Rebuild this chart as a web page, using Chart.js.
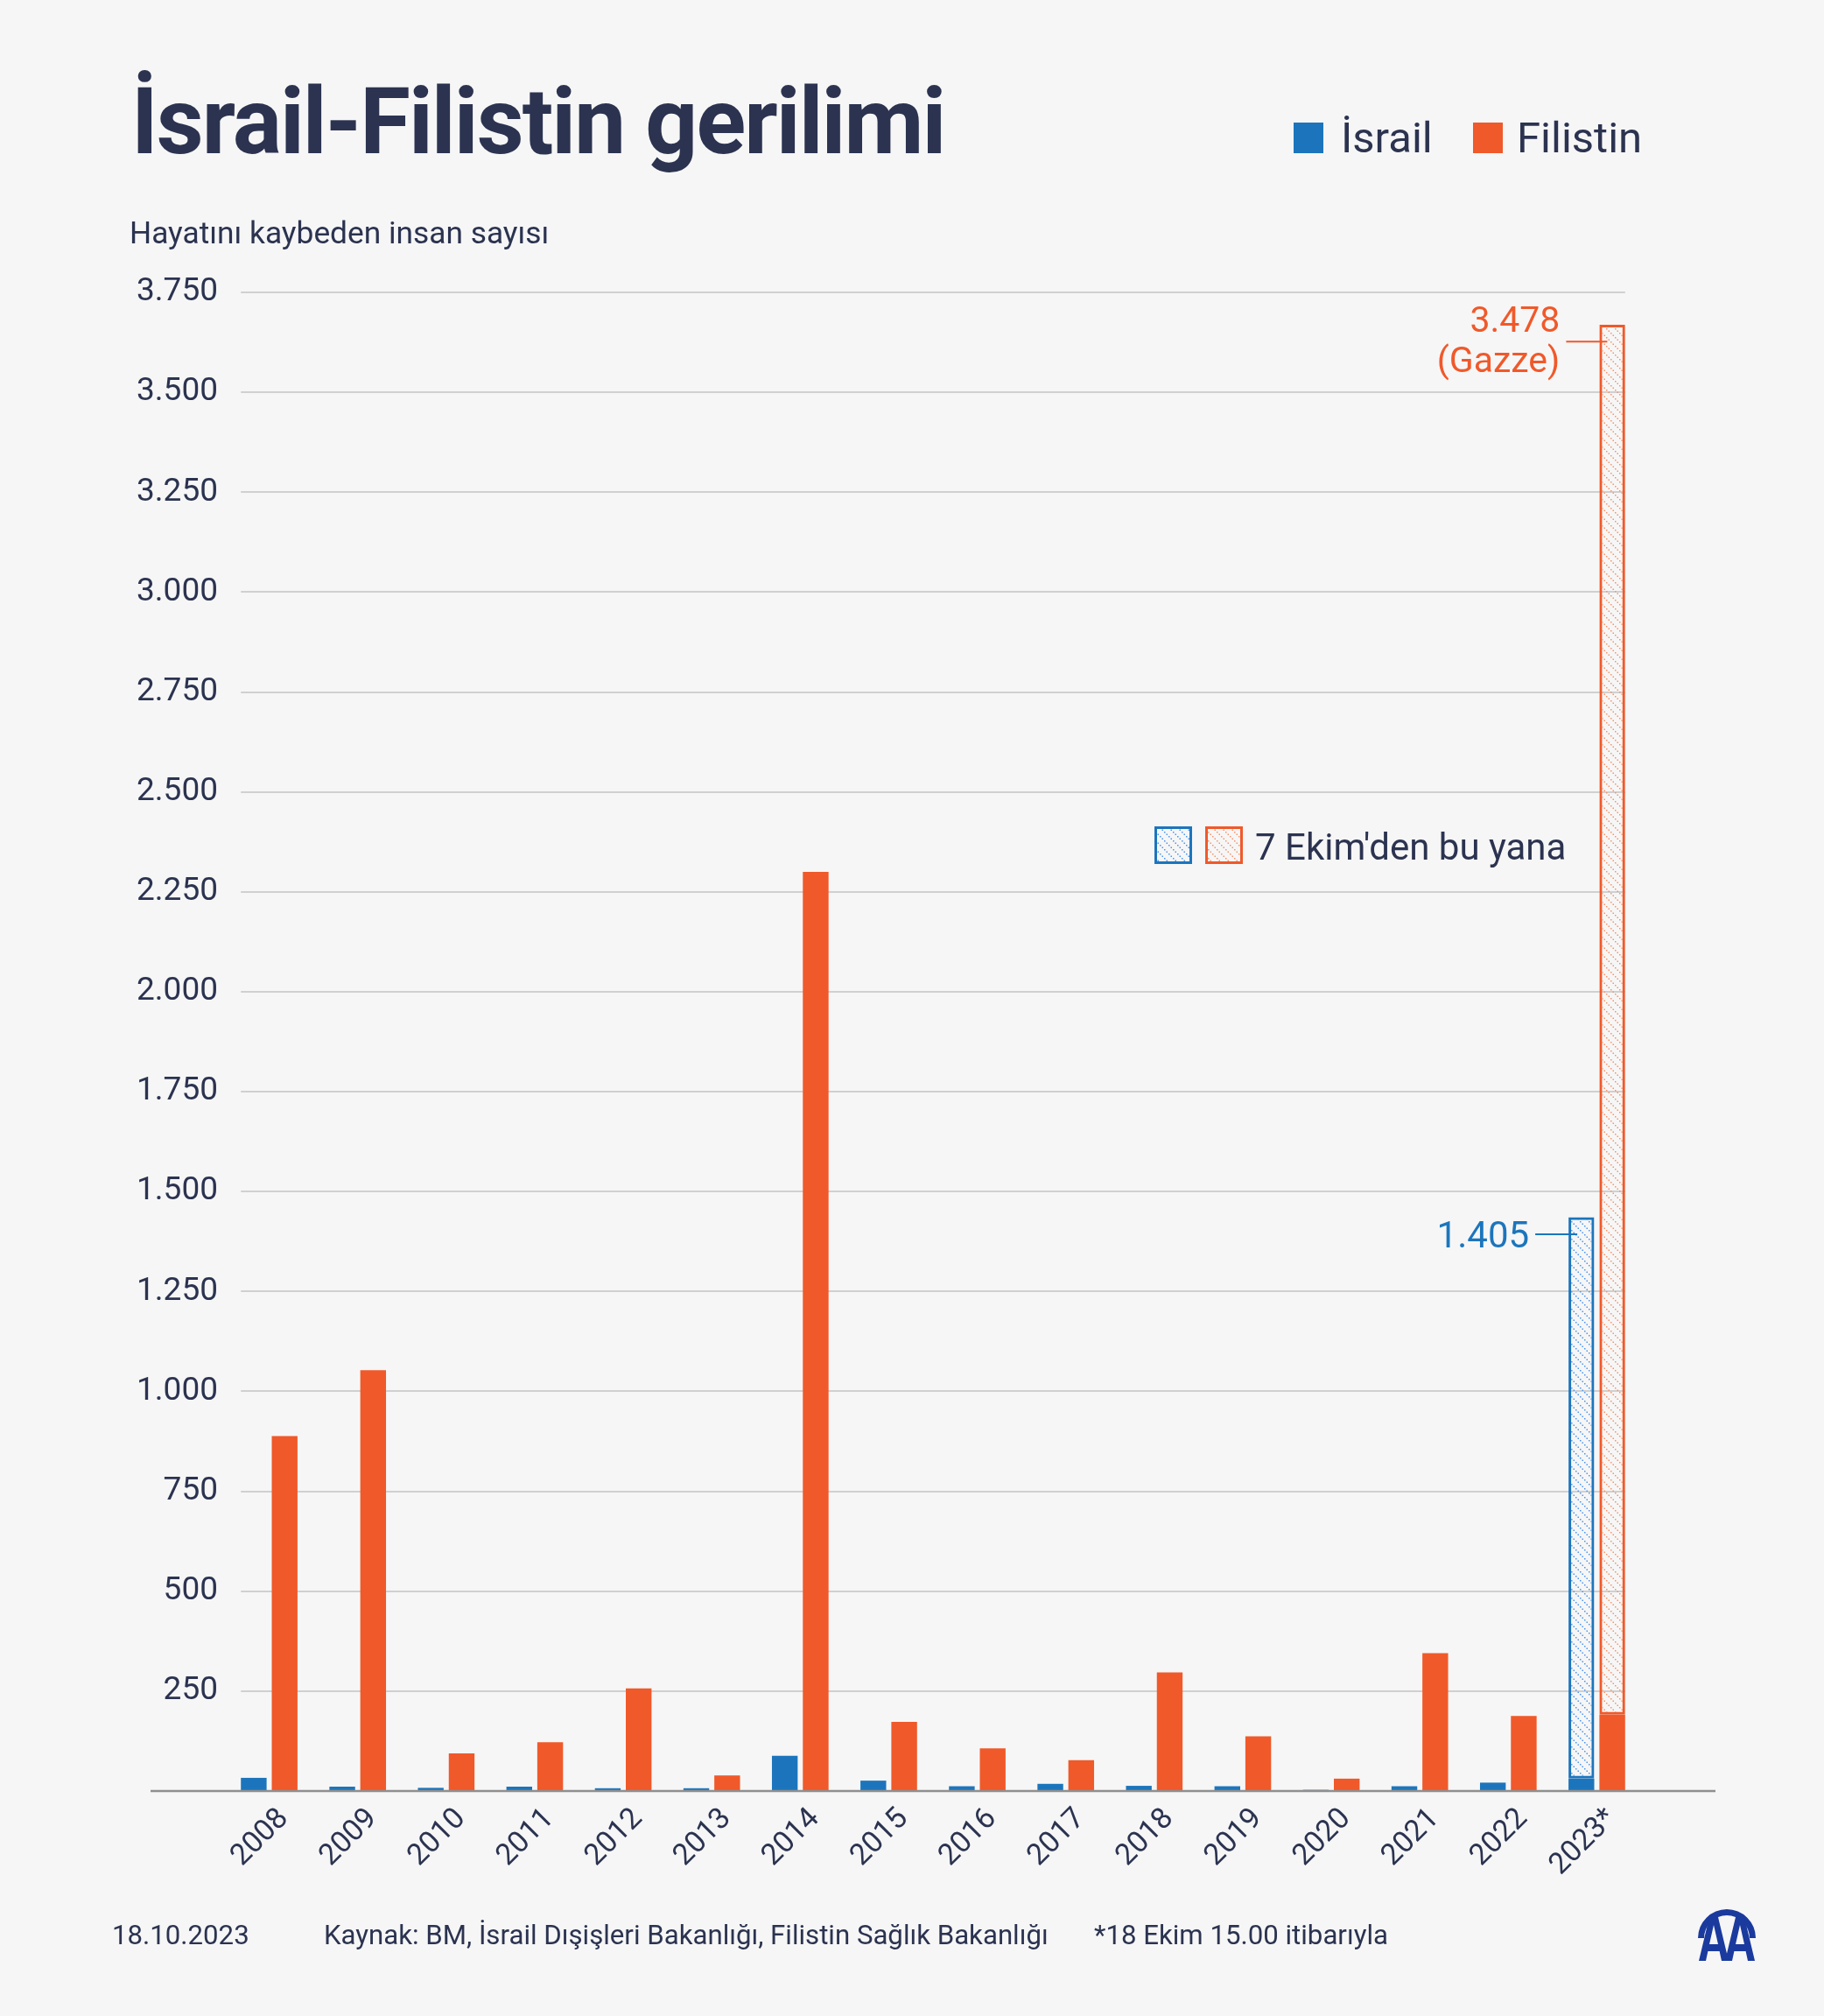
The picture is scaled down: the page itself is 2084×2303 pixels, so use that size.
<!DOCTYPE html>
<html>
<head>
<meta charset="utf-8">
<script src="https://cdn.jsdelivr.net/npm/chart.js@4.4.0/dist/chart.umd.min.js"></script>
<style>
html,body{margin:0;padding:0;background:#f6f6f6;}
#wrap{position:relative;width:2084px;height:2303px;background:#f6f6f6;font-family:Roboto,sans-serif;color:#2b3350;overflow:hidden}
#c{position:absolute;left:0;top:0}
.t{position:absolute;white-space:nowrap;line-height:1}
.sq{position:absolute}
</style>
</head>
<body>
<div id="wrap">
  <canvas id="c" width="2084" height="2303"></canvas>
  <div class="t" id="title" style="left:150px;top:87px;font-size:105px;font-weight:700;letter-spacing:-1.9px;">İsrail-Filistin gerilimi</div>
  <div class="sq" style="left:1478px;top:140px;width:34px;height:35px;background:#1c75bc"></div>
  <div class="t" style="left:1532px;top:133px;font-size:49px;">İsrail</div>
  <div class="sq" style="left:1683px;top:140px;width:34px;height:35px;background:#f0592a"></div>
  <div class="t" style="left:1733px;top:133px;font-size:49px;">Filistin</div>
  <div class="t" id="sub" style="left:148px;top:249px;font-size:35.3px;">Hayatını kaybeden insan sayısı</div>
  <div class="t" style="left:1434px;top:947px;font-size:42px;">7 Ekim'den bu yana</div>
  <div class="t" style="left:128px;top:2195px;font-size:31.2px;">18.10.2023</div>
  <div class="t" style="left:370px;top:2195px;font-size:31.2px;">Kaynak: BM, İsrail Dışişleri Bakanlığı, Filistin Sağlık Bakanlığı</div>
  <div class="t" style="left:1250px;top:2195px;font-size:31.2px;">*18 Ekim 15.00 itibarıyla</div>
  <svg style="position:absolute;left:1938px;top:2170px" width="70" height="70" viewBox="0 0 70 70">
    <path d="M2 44 A33 33 0 0 1 68 44 L61 44 A26 26 0 0 0 9 44 Z" fill="#1b3a9e"/>
    <path fill-rule="evenodd" fill="#1b3a9e" d="M3 70 L15 20 L25 20 L37 70 L29 70 L26.6 59 L13.4 59 L11 70 Z M15 51 L25 51 L20 29 Z"/>
    <path fill-rule="evenodd" fill="#1b3a9e" d="M33 70 L45 20 L55 20 L67 70 L59 70 L56.6 59 L43.4 59 L41 70 Z M45 51 L55 51 L50 29 Z"/>
  </svg>
</div>
<script>
// ---- data ----
const years = ['2008','2009','2010','2011','2012','2013','2014','2015','2016','2017','2018','2019','2020','2021','2022','2023*'];
const israel = [33, 11, 8, 11, 7, 7, 88, 26, 12, 18, 13, 12, 3, 12, 21, 31];
const filistin = [888, 1053, 94, 122, 257, 39, 2300, 173, 107, 77, 297, 137, 31, 345, 188, 191];
const israelSince = [null,null,null,null,null,null,null,null,null,null,null,null,null,null,null,1405];
const filistinSince = [null,null,null,null,null,null,null,null,null,null,null,null,null,null,null,3478];
const yTicks = [0,250,500,750,1000,1250,1500,1750,2000,2250,2500,2750,3000,3250,3500,3750];

const BLUE = '#1c75bc', ORANGE = '#f0592a', NAVY = '#2b3350';
const fmt = v => v.toLocaleString('de-DE');

function makeHatch(ctx, dot) {
  const s = 10;
  const c = document.createElement('canvas'); c.width = s; c.height = s;
  const g = c.getContext('2d');
  g.fillStyle = dot;
  for (let i = 0; i < s; i += 2.5) g.fillRect(i, i, 1.5, 1.5);
  return ctx.createPattern(c, 'repeat');
}

const decor = {
  id: 'decor',
  beforeDatasetsDraw(chart) {
    const ctx = chart.ctx, y = chart.scales.y;
    const first = chart.getDatasetMeta(0).data[0];
    const last = chart.getDatasetMeta(2).data[years.length - 1];
    const left = first.x - first.width / 2, right = last.x + last.width / 2;
    ctx.save();
    ctx.strokeStyle = '#d0d0d0'; ctx.lineWidth = 2;
    yTicks.forEach(v => {
      if (v === 0) return;
      const py = Math.round(y.getPixelForValue(v));
      ctx.beginPath(); ctx.moveTo(left, py); ctx.lineTo(right, py); ctx.stroke();
    });
    ctx.restore();
  },
  afterDatasetsDraw(chart) {
    const ctx = chart.ctx, y = chart.scales.y, a = chart.chartArea;
    ctx.save();
    const py0 = y.getPixelForValue(0);
    ctx.strokeStyle = '#8f8f8f'; ctx.lineWidth = 2.5;
    ctx.beginPath(); ctx.moveTo(a.left - 85, py0); ctx.lineTo(a.right + 85, py0); ctx.stroke();

    const n = years.length - 1;
    // Israel label
    const bi = chart.getDatasetMeta(1).data[n];
    const biLeft = bi.x - bi.width / 2;
    const liY = bi.y + 19.5;
    ctx.strokeStyle = BLUE; ctx.lineWidth = 2;
    ctx.beginPath(); ctx.moveTo(biLeft - 38, liY); ctx.lineTo(biLeft + 10, liY); ctx.stroke();
    ctx.fillStyle = BLUE; ctx.font = '42px Roboto'; ctx.textAlign = 'right'; ctx.textBaseline = 'alphabetic';
    ctx.fillText(fmt(israelSince[n]), biLeft - 45, bi.y + 35);
    // Filistin label
    const bf = chart.getDatasetMeta(3).data[n];
    const bfLeft = bf.x - bf.width / 2;
    const lfY = bf.y + 19.3;
    ctx.strokeStyle = ORANGE;
    ctx.beginPath(); ctx.moveTo(bfLeft - 38, lfY); ctx.lineTo(bfLeft + 9, lfY); ctx.stroke();
    ctx.fillStyle = ORANGE; ctx.font = '41px Roboto';
    ctx.fillText(fmt(filistinSince[n]), bfLeft - 45, bf.y + 7.6);
    ctx.fillText('(Gazze)', bfLeft - 45, bf.y + 53.6);

    // hatched legend squares
    const sq = (x, col, pat) => {
      ctx.fillStyle = pat; ctx.fillRect(x, 944, 43, 43);
      ctx.strokeStyle = col; ctx.lineWidth = 3; ctx.strokeRect(x + 1.5, 945.5, 40, 40);
    };
    sq(1319, BLUE, chart.data.datasets[1].backgroundColor);
    sq(1377, ORANGE, chart.data.datasets[3].backgroundColor);
    ctx.restore();
  }
};

async function init() {
  try { await document.fonts.load('40px Roboto'); await document.fonts.load('bold 40px Roboto'); } catch (e) {}
  const canvas = document.getElementById('c');
  const ctx = canvas.getContext('2d');
  const hatchBlue = makeHatch(ctx, '#4f95ee');
  const hatchOrange = makeHatch(ctx, '#f5946c');

  new Chart(canvas, {
    type: 'bar',
    data: {
      labels: years,
      datasets: [
        { label: 'İsrail', data: israel, stack: 'isr', backgroundColor: BLUE, borderWidth: 0 },
        { label: 'İsrail (7 Ekim\'den bu yana)', data: israelSince, stack: 'isr', backgroundColor: hatchBlue, borderColor: BLUE, borderWidth: 3, borderSkipped: false },
        { label: 'Filistin', data: filistin, stack: 'fil', backgroundColor: ORANGE, borderWidth: 0 },
        { label: 'Filistin (7 Ekim\'den bu yana)', data: filistinSince, stack: 'fil', backgroundColor: hatchOrange, borderColor: ORANGE, borderWidth: 3, borderSkipped: false }
      ]
    },
    options: {
      responsive: false,
      devicePixelRatio: 1,
      animation: false,
      categoryPercentage: 0.698,
      barPercentage: 0.833,
      layout: { padding: { top: 334, right: 209, bottom: 137, left: 0 } },
      plugins: { legend: { display: false }, tooltip: { enabled: false } },
      scales: {
        x: {
          stacked: true,
          grid: { display: false, drawTicks: false },
          border: { display: false },
          afterFit: s => { s.height = 120; },
          ticks: {
            autoSkip: false, minRotation: 45, maxRotation: 45, padding: 12, labelOffset: 17,
            color: NAVY, font: { family: 'Roboto', size: 34 }
          }
        },
        y: {
          stacked: true, min: 0, max: 3750,
          grid: { display: false, drawTicks: false },
          border: { display: false },
          afterFit: s => { s.width = 257; },
          afterBuildTicks: s => { s.ticks = yTicks.map(v => ({ value: v })); },
          ticks: {
            padding: 8, color: NAVY, font: { family: 'Roboto', size: 37 },
            callback: v => v === 0 ? '' : fmt(v)
          }
        }
      }
    },
    plugins: [decor]
  });
}
init();
</script>
</body>
</html>
